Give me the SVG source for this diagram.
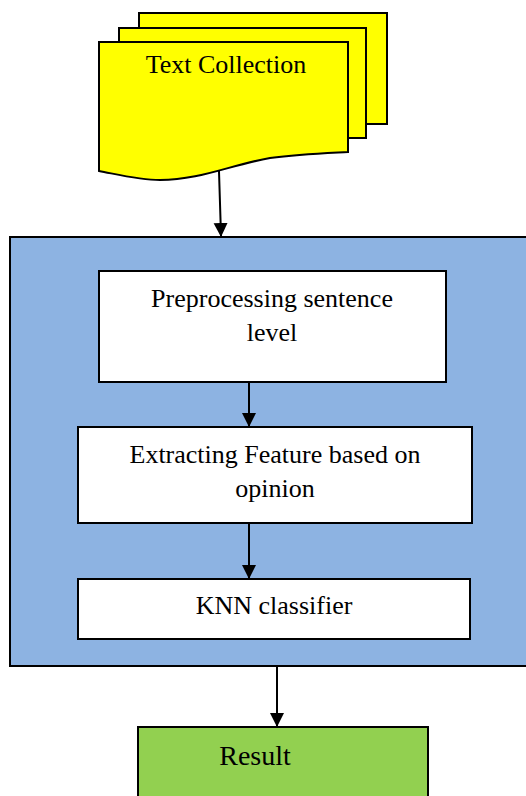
<svg xmlns="http://www.w3.org/2000/svg" width="526" height="796" viewBox="0 0 526 796">
<defs>
<style>
.t{font-family:"Liberation Serif","Times New Roman",serif;font-size:26px;fill:#000;text-anchor:middle}
.ln{stroke:#000;stroke-width:2;fill:none}
.bx{stroke:#000;stroke-width:2}
</style>
<marker id="ah" markerWidth="14" markerHeight="16" refX="13" refY="7" orient="auto" markerUnits="userSpaceOnUse">
<path d="M0,0 L14,7 L0,14 Z" fill="#000"/>
</marker>
</defs>
<rect width="526" height="796" fill="#fff"/>
<g id="text-collection">
<rect class="bx" x="139" y="13" width="248" height="111" fill="#ffff00"/>
<rect class="bx" x="119" y="28" width="247" height="110" fill="#ffff00"/>
<path class="bx" d="M99,42 H348 V152 C330,153 300,154 270,158 C230,165 200,180 160,180 C140,180 120,175 99,171 Z" fill="#ffff00"/>
<text class="t" x="226" y="73">Text Collection</text>
</g>
<g id="process-group">
<rect class="bx" x="10" y="237" width="520" height="429" fill="#8db3e2"/>
</g>
<g id="preprocessing">
<rect class="bx" x="99" y="271" width="347" height="111" fill="#fff"/>
<text class="t" x="272" y="307">Preprocessing sentence</text>
<text class="t" x="272" y="341">level</text>
</g>
<g id="extracting">
<rect class="bx" x="78" y="427" width="394" height="96" fill="#fff"/>
<text class="t" x="275" y="463">Extracting Feature based on</text>
<text class="t" x="275" y="497">opinion</text>
</g>
<g id="knn">
<rect class="bx" x="78" y="579" width="392" height="60" fill="#fff"/>
<text class="t" x="274" y="614">KNN classifier</text>
</g>
<g id="result">
<rect class="bx" x="138" y="727" width="290" height="80" fill="#92d050"/>
<text class="t" x="255" y="765" style="font-size:28px">Result</text>
</g>
<g id="connectors">
<line class="ln" x1="219" y1="171" x2="221" y2="236" marker-end="url(#ah)"/>
<line class="ln" x1="249" y1="382" x2="249" y2="426" marker-end="url(#ah)"/>
<line class="ln" x1="249" y1="523" x2="249" y2="578" marker-end="url(#ah)"/>
<line class="ln" x1="277" y1="666" x2="277" y2="726" marker-end="url(#ah)"/>
</g>
</svg>
